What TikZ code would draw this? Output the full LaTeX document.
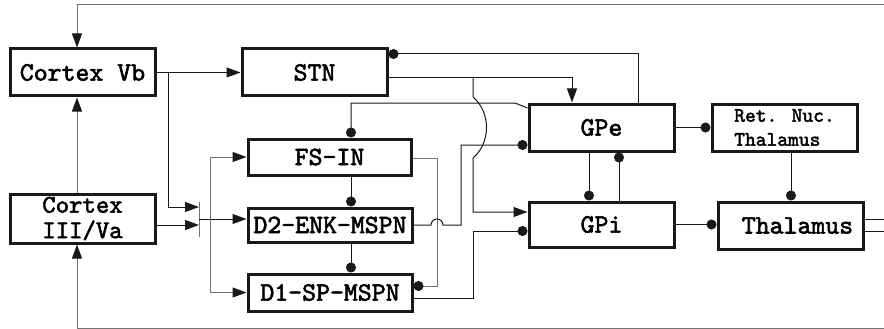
\documentclass[tikz,border=0pt]{standalone}
\usepackage{fontspec}
\newfontfamily\courb{lmmono10-regular.otf}[FakeBold=2.2]
\usetikzlibrary{arrows.meta,calc}
\begin{document}
\begin{tikzpicture}[x=1pt,y=-1pt,
  box/.style={draw=black!90, line width=3pt, inner sep=0pt, align=center,
    font=\courb\fontsize{26.5}{23}\selectfont},
  smallbox/.style={box, align=left, font=\courb\fontsize{20.5}{24}\selectfont},
  ln/.style={line width=1pt, draw=black!90},
  gln/.style={line width=1pt, draw=black!55},
  arr/.style={-{Triangle[length=14pt,width=10pt,color=black!90]}},
  inh/.style={-{Circle[length=10pt,color=black!90]}},
]
\useasboundingbox (0,0) rectangle (884,329);
% boxes
\node[box,minimum width=145pt,minimum height=47pt] (cvb) at (82.5,72.5) {Cortex Vb};
\node[box,minimum width=145pt,minimum height=49pt,font=\courb\fontsize{25.5}{25.5}\selectfont] (c3) at (82.5,218.5) {Cortex\\III/Va};
\node[box,minimum width=145pt,minimum height=47pt] (stn) at (314.5,72.5) {STN};
\node[box,minimum width=163pt,minimum height=36pt] (fsin) at (329.5,157) {FS-IN};
\node[box,minimum width=164pt,minimum height=34pt] (d2) at (330,225) {D2-ENK-MSPN};
\node[box,minimum width=164pt,minimum height=37pt] (d1) at (330,292.5) {D1-SP-MSPN};
\node[box,minimum width=145pt,minimum height=47pt] (gpe) at (601.5,127.5) {GPe};
\node[box,minimum width=145pt,minimum height=45pt] (gpi) at (601.5,224.5) {GPi};
\node[smallbox,minimum width=145pt,minimum height=47pt] (ret) at (784.5,127.5) {Ret. Nuc.\\Thalamus};
\node[box,minimum width=145pt,minimum height=47pt] (thal) at (790.5,225.5) {\hspace*{14pt}Thalamus};
% free-end coordinates
\coordinate (topR) at (884,5);
\coordinate (botR) at (884,328);
\coordinate (br1) at (168,72.5);
\coordinate (barT) at (199,202);
\coordinate (barB) at (199,237);
\coordinate (sp) at (210,219);
\coordinate (j0) at (473,78);
\coordinate (j1) at (473,97);
\coordinate (j2) at (473,158);
\coordinate (j3) at (473,212);
\coordinate (f1) at (515,103);
\coordinate (b1) at (431,225);
\coordinate (b2) at (461,225);
\coordinate (g1) at (437,286);
\coordinate (k1) at (473,231);
\coordinate (o1) at (884,219);
\coordinate (o2) at (884,231);
% feedback loops
\draw[gln,arr] (topR) -| ([xshift=-5.5pt]cvb.north);
\draw[gln,arr] (botR) -| ([xshift=-5.5pt]c3.south);
\draw[gln,arr] ([xshift=-5.5pt]c3.north) -- ([xshift=-5.5pt]cvb.south);
% cortex to STN and striatum
\draw[ln,arr] (cvb.east) -- (stn.west);
\draw[gln] (barT) -- (barB);
\draw[ln,arr] (br1) |- (barT |- 0,207);
\draw[ln,arr] (c3.east |- 0,225) -- (barT |- 0,225);
\draw[ln,arr] (barT |- 0,219) -- (d2.west |- 0,219);
\draw[gln,arr] (sp) |- (fsin.west);
\draw[gln,arr] (sp) |- (d1.west);
% STN / GPe
\draw[ln,inh] (gpe.north -| 638,0) |- (stn.east |- 0,54);
\draw[ln,arr] (stn.east |- 0,78) -| (gpe.north -| 572,0);
\draw[ln,arr] (j0) -- (j1) .. controls (491,112) and (491,143) .. (j2) -- (j3) -- (gpi.west |- j3);
\draw[ln,inh] (gpe.west |- 0,108) -- (f1) -| ([xshift=21.5pt]fsin.north);
% striatum internal
\draw[ln,inh] ([xshift=21.5pt]fsin.south) -- ([xshift=21pt]d2.north);
\draw[ln,inh] ([xshift=21pt]d2.south) -- ([xshift=21pt]d1.north);
\draw[gln,inh] (fsin.east |- 0,158) -| (g1) -- (d1.east |- g1);
% striatum outputs
\draw[ln,inh] (d2.east) -- (b1) arc[start angle=180,end angle=0,radius=6pt] -- (b2) |- (gpe.west |- 0,145);
\draw[ln,inh] (d1.east |- 0,298) -| (k1) -- (gpi.west |- k1);
% GPe / GPi
\draw[ln,inh] (gpe.south -| 589,0) -- (gpi.north -| 589,0);
\draw[ln,inh] (gpi.north -| 619,0) -- (gpe.south -| 619,0);
\draw[ln,inh] (gpe.east) -- (ret.west);
\draw[ln,inh] (ret.south -| 791,0) -- (thal.north -| 791,0);
\draw[ln,inh] (gpi.east) -- (gpi.east -| thal.west);
% thalamus outputs
\draw[ln] (thal.east |- o1) -- (o1);
\draw[ln] (thal.east |- o2) -- (o2);
\end{tikzpicture}
\end{document}
